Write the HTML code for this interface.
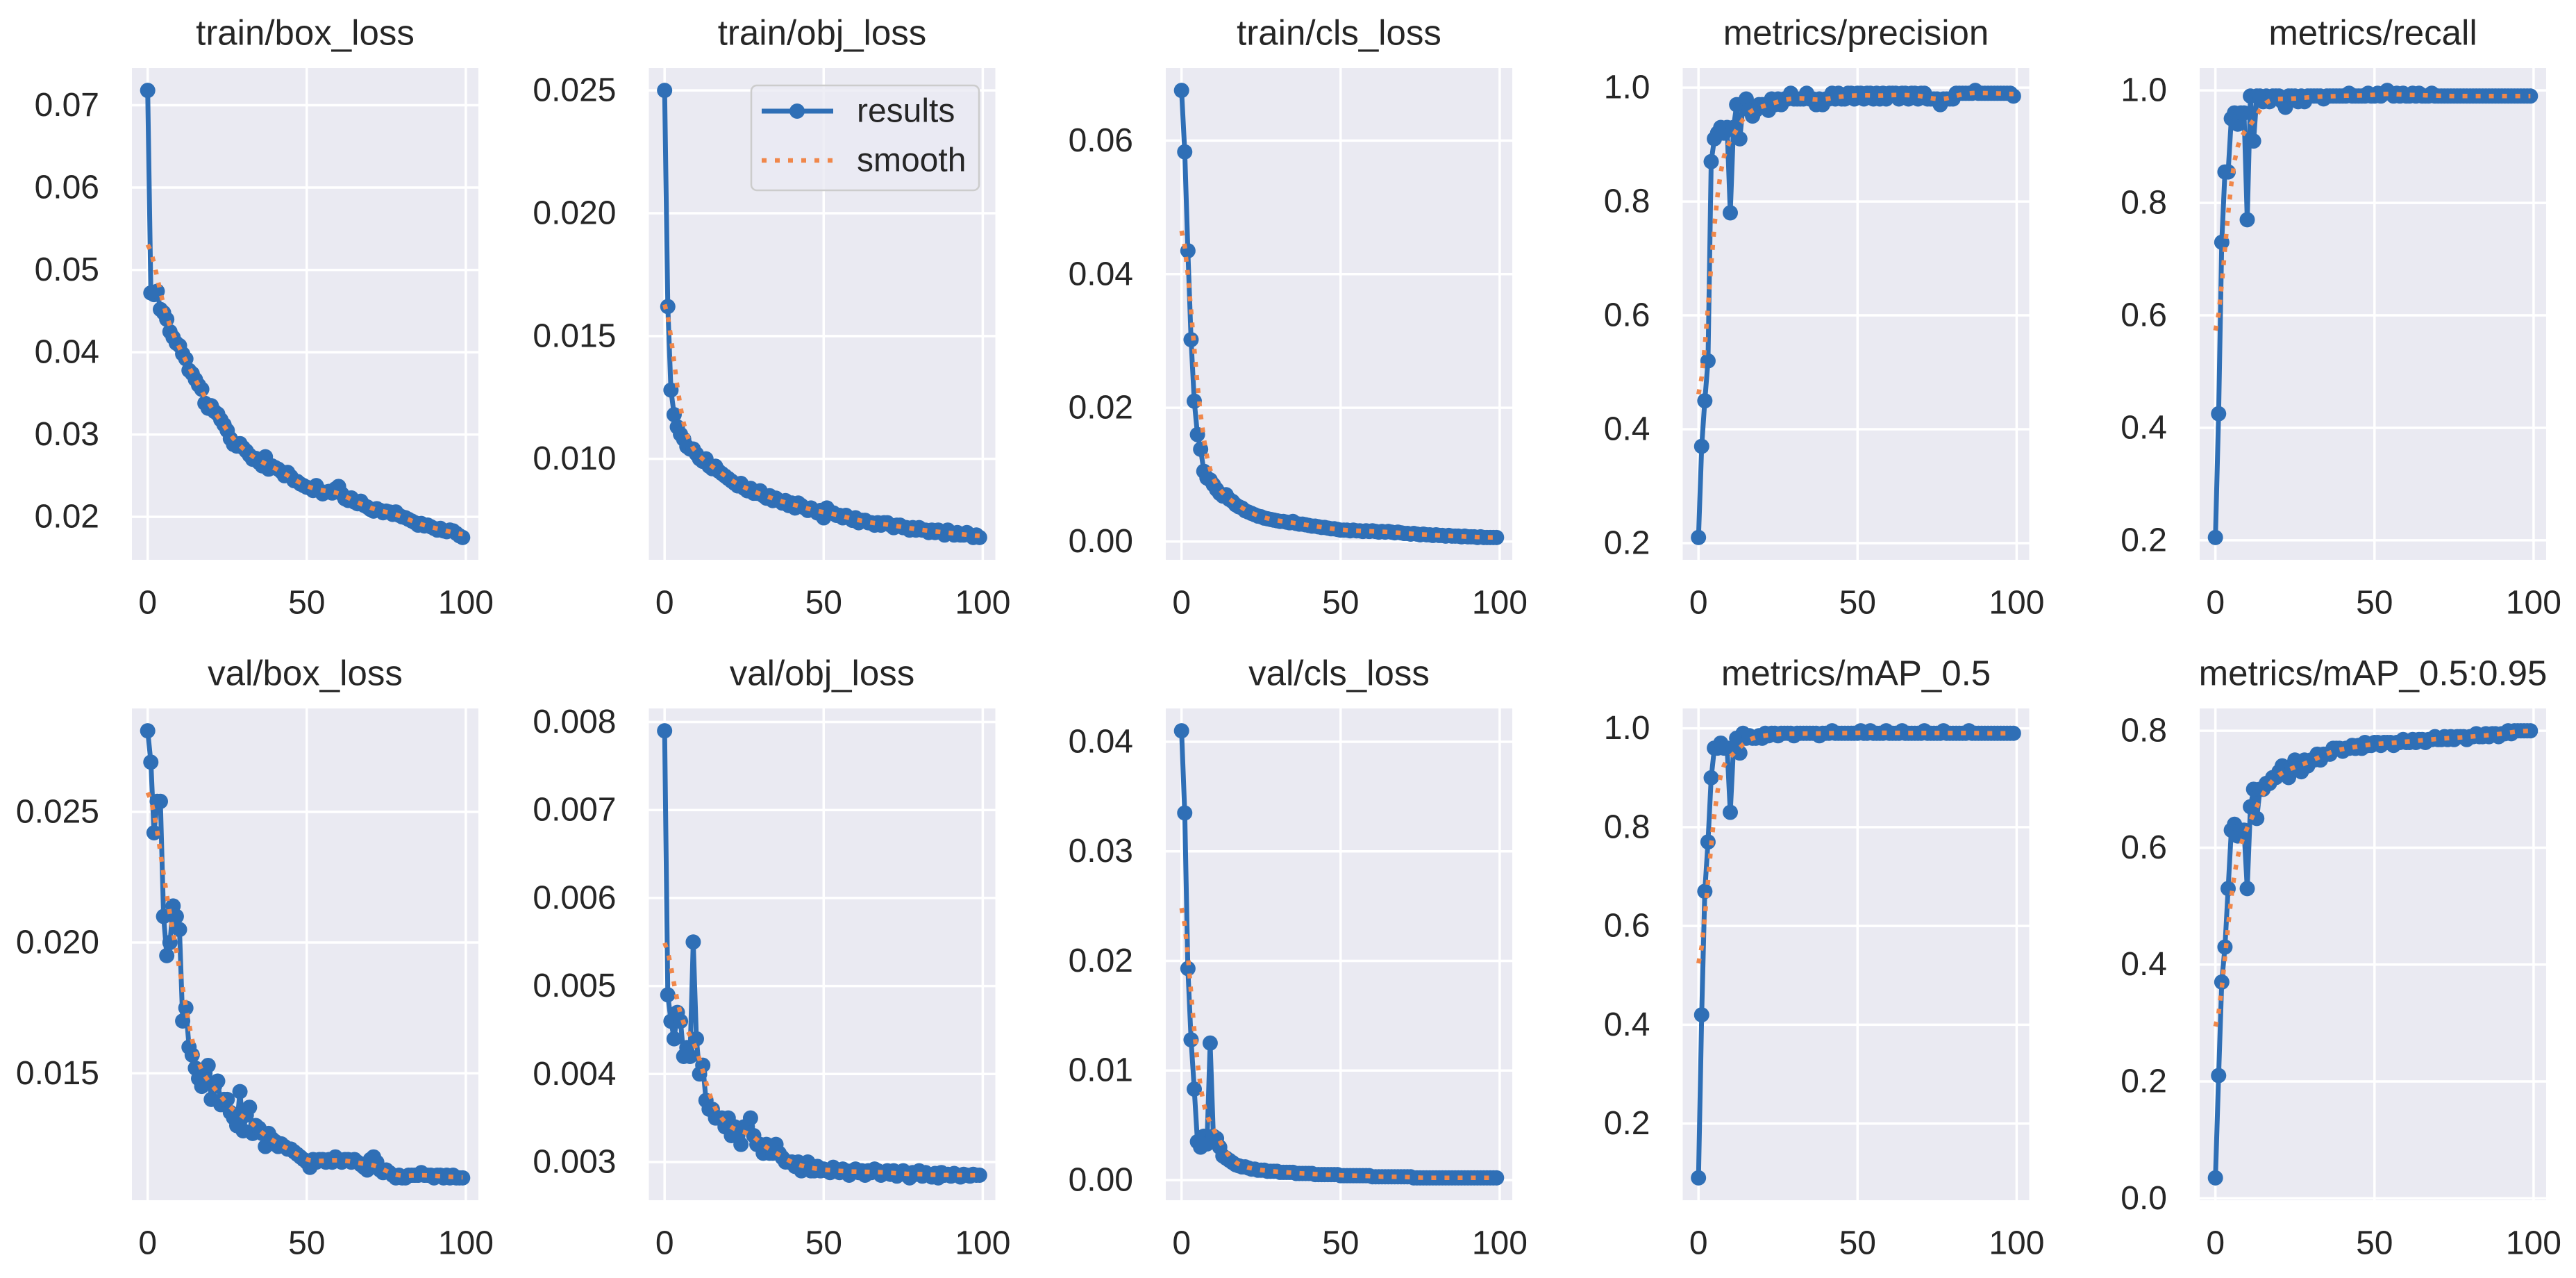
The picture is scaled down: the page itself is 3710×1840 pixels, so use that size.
<!DOCTYPE html>
<html>
<head>
<meta charset="utf-8">
<style>
html,body{margin:0;padding:0;background:#fff;}
svg{display:block;}
text{font-family:"Liberation Sans",Arial,sans-serif;fill:#262626;}
</style>
</head>
<body>
<svg id="chart" xmlns="http://www.w3.org/2000/svg" width="3710" height="1840" viewBox="0 0 3710 1840">
<rect x="0" y="0" width="3710" height="1840" fill="#ffffff"/>
</svg>
<script>
const titles = ["train/box_loss","train/obj_loss","train/cls_loss","metrics/precision","metrics/recall","val/box_loss","val/obj_loss","val/cls_loss","metrics/mAP_0.5","metrics/mAP_0.5:0.95"];
const xTicks = [0,50,100];
const trainBox = [0.0718,0.0472,0.0470,0.0474,0.0452,0.0448,0.0440,0.0425,0.0418,0.0411,0.0408,0.0398,0.0392,0.0378,0.0374,0.0367,0.0360,0.0355,0.0338,0.0332,0.0335,0.0328,0.0325,0.0318,0.0312,0.0305,0.0295,0.0288,0.0286,0.0289,0.0284,0.0280,0.0275,0.0270,0.0271,0.0266,0.0262,0.0273,0.0258,0.0262,0.0260,0.0258,0.0255,0.0250,0.0254,0.0249,0.0244,0.0243,0.0240,0.0238,0.0236,0.0235,0.0232,0.0238,0.0232,0.0228,0.0230,0.0231,0.0229,0.0234,0.0237,0.0228,0.0222,0.0220,0.0223,0.0218,0.0216,0.0219,0.0214,0.0212,0.0209,0.0207,0.0210,0.0208,0.0205,0.0207,0.0206,0.0203,0.0206,0.0202,0.0200,0.0199,0.0197,0.0195,0.0193,0.0190,0.0192,0.0189,0.0190,0.0188,0.0186,0.0184,0.0186,0.0183,0.0182,0.0184,0.0183,0.0180,0.0177,0.0175];
const trainObj = [0.0250,0.0162,0.0128,0.0118,0.0113,0.0110,0.0108,0.0105,0.0104,0.0104,0.0102,0.0100,0.0099,0.0100,0.0097,0.0096,0.0097,0.0095,0.0094,0.0093,0.0092,0.0091,0.0090,0.0089,0.0090,0.0088,0.0087,0.0088,0.0086,0.0086,0.0087,0.0085,0.0084,0.0085,0.0083,0.0084,0.0083,0.0082,0.0083,0.0081,0.0082,0.0080,0.0082,0.0081,0.0080,0.0079,0.0080,0.0079,0.0078,0.0079,0.0076,0.0080,0.0078,0.0078,0.0077,0.0077,0.0076,0.0077,0.0076,0.0075,0.0076,0.0074,0.0075,0.0075,0.0074,0.0074,0.0073,0.0074,0.0073,0.0074,0.0074,0.0073,0.0072,0.0073,0.0073,0.0072,0.0072,0.0071,0.0072,0.0071,0.0072,0.0071,0.0071,0.0070,0.0071,0.0070,0.0071,0.0070,0.0069,0.0071,0.0070,0.0069,0.0070,0.0069,0.0069,0.0070,0.0069,0.0068,0.0069,0.0068];
const trainCls = [0.0675,0.0583,0.0435,0.0302,0.0210,0.0160,0.0138,0.0105,0.0095,0.0092,0.0085,0.0078,0.0072,0.0068,0.0070,0.0063,0.0060,0.0055,0.0052,0.0050,0.0046,0.0044,0.0042,0.0040,0.0038,0.0037,0.0035,0.0034,0.0033,0.0032,0.0031,0.0030,0.0030,0.0029,0.0028,0.0030,0.0027,0.0026,0.0026,0.0025,0.0024,0.0023,0.0023,0.0022,0.0021,0.0021,0.0020,0.0019,0.0019,0.0018,0.0017,0.0017,0.0017,0.0016,0.0017,0.0016,0.0016,0.0015,0.0016,0.0015,0.0016,0.0015,0.0014,0.0015,0.0014,0.0015,0.0014,0.0013,0.0014,0.0013,0.0012,0.0012,0.0011,0.0012,0.0011,0.0010,0.0011,0.0010,0.0010,0.0009,0.0010,0.0009,0.0009,0.0008,0.0009,0.0008,0.0008,0.0008,0.0007,0.0008,0.0007,0.0007,0.0007,0.0006,0.0007,0.0006,0.0006,0.0006,0.0006,0.0006];
const precision = [0.21,0.37,0.45,0.52,0.87,0.91,0.92,0.93,0.92,0.93,0.78,0.93,0.97,0.91,0.97,0.98,0.96,0.95,0.96,0.97,0.97,0.97,0.96,0.98,0.97,0.98,0.97,0.98,0.98,0.99,0.98,0.98,0.98,0.98,0.99,0.98,0.98,0.97,0.98,0.97,0.98,0.98,0.99,0.98,0.99,0.98,0.98,0.99,0.99,0.98,0.99,0.99,0.98,0.99,0.99,0.98,0.99,0.98,0.99,0.98,0.99,0.99,0.99,0.98,0.99,0.99,0.98,0.99,0.99,0.98,0.99,0.99,0.98,0.98,0.98,0.98,0.97,0.98,0.98,0.98,0.98,0.99,0.99,0.99,0.99,0.99,0.99,0.995,0.99,0.99,0.99,0.99,0.99,0.99,0.99,0.99,0.99,0.99,0.99,0.985];
const recall = [0.205,0.425,0.73,0.855,0.855,0.95,0.96,0.94,0.96,0.96,0.77,0.99,0.91,0.99,0.99,0.98,0.99,0.98,0.99,0.99,0.99,0.98,0.97,0.99,0.99,0.99,0.98,0.99,0.98,0.99,0.99,0.99,0.99,0.99,0.985,0.99,0.99,0.99,0.99,0.99,0.99,0.99,0.995,0.99,0.99,0.99,0.99,0.99,0.995,0.99,0.99,0.995,0.99,0.995,1.0,0.995,0.99,0.995,0.99,0.995,0.99,0.99,0.995,0.99,0.995,0.99,0.99,0.99,0.995,0.99,0.99,0.99,0.99,0.99,0.99,0.99,0.99,0.99,0.99,0.99,0.99,0.99,0.99,0.99,0.99,0.99,0.99,0.99,0.99,0.99,0.99,0.99,0.99,0.99,0.99,0.99,0.99,0.99,0.99,0.99];
const valBox = [0.0281,0.0269,0.0242,0.0254,0.0254,0.0210,0.0195,0.0200,0.0214,0.0210,0.0205,0.0170,0.0175,0.0160,0.0157,0.0152,0.0148,0.0145,0.0150,0.0153,0.0140,0.0145,0.0147,0.0138,0.0140,0.0140,0.0135,0.0133,0.0130,0.0143,0.0128,0.0134,0.0137,0.0127,0.0130,0.0129,0.0127,0.0122,0.0127,0.0125,0.0124,0.0122,0.0123,0.0122,0.0121,0.0121,0.0120,0.0119,0.0118,0.0117,0.0116,0.0114,0.0117,0.0116,0.0117,0.0117,0.0116,0.0117,0.0116,0.0118,0.0117,0.0116,0.0117,0.0117,0.0116,0.0117,0.0116,0.0115,0.0114,0.0113,0.0117,0.0118,0.0116,0.0113,0.0112,0.0113,0.0112,0.0111,0.0110,0.0111,0.0110,0.0110,0.0111,0.0111,0.0111,0.0111,0.0112,0.0111,0.0111,0.0111,0.0110,0.0111,0.0111,0.0110,0.0111,0.0110,0.0111,0.0110,0.0110,0.0110];
const valObj = [0.0079,0.0049,0.0046,0.0044,0.0047,0.0046,0.0042,0.0043,0.0042,0.0055,0.0044,0.0040,0.0041,0.0037,0.0036,0.0036,0.0035,0.0035,0.0035,0.0034,0.0035,0.0033,0.0034,0.0033,0.0032,0.0034,0.0034,0.0035,0.0033,0.0032,0.0032,0.0031,0.0032,0.0031,0.0031,0.0032,0.0031,0.00305,0.0030,0.0030,0.0030,0.00295,0.0030,0.0029,0.00295,0.0030,0.0029,0.0029,0.00295,0.0029,0.00292,0.0029,0.00288,0.00294,0.0029,0.00288,0.00292,0.0029,0.00285,0.0029,0.00292,0.00288,0.0029,0.00285,0.0029,0.00288,0.00292,0.0029,0.00285,0.00288,0.0029,0.00286,0.0029,0.00284,0.00288,0.0029,0.00285,0.00282,0.00288,0.00286,0.0029,0.00284,0.00288,0.00286,0.00283,0.00287,0.00282,0.00288,0.00285,0.00286,0.00284,0.00287,0.00285,0.00283,0.00286,0.00285,0.00284,0.00286,0.00285,0.00285];
const valCls = [0.0410,0.0335,0.0193,0.0128,0.0083,0.0035,0.0030,0.0040,0.0033,0.0125,0.0040,0.0038,0.0030,0.0022,0.0020,0.0018,0.0016,0.0014,0.0013,0.0012,0.0012,0.0011,0.0010,0.0010,0.0009,0.0009,0.0009,0.0008,0.0008,0.0008,0.0008,0.0007,0.0007,0.0007,0.0007,0.0007,0.0006,0.0006,0.0006,0.0006,0.0006,0.0006,0.0005,0.0005,0.0005,0.0005,0.0005,0.0005,0.0005,0.0005,0.0004,0.0004,0.0004,0.0004,0.0004,0.0004,0.0004,0.0004,0.0004,0.0004,0.0003,0.0003,0.0003,0.0003,0.0003,0.0003,0.0003,0.0003,0.0003,0.0003,0.0003,0.0003,0.0003,0.0002,0.0002,0.0002,0.0002,0.0002,0.0002,0.0002,0.0002,0.0002,0.0002,0.0002,0.0002,0.0002,0.0002,0.0002,0.0002,0.0002,0.0002,0.0002,0.0002,0.0002,0.0002,0.0002,0.0002,0.0002,0.0002,0.0002];
const map50 = [0.09,0.42,0.67,0.77,0.90,0.96,0.96,0.97,0.96,0.96,0.83,0.96,0.98,0.95,0.99,0.98,0.985,0.98,0.98,0.985,0.98,0.99,0.985,0.99,0.99,0.985,0.99,0.99,0.99,0.99,0.985,0.99,0.99,0.99,0.99,0.99,0.99,0.99,0.985,0.99,0.99,0.99,0.995,0.99,0.99,0.99,0.99,0.99,0.99,0.99,0.99,0.995,0.99,0.99,0.995,0.99,0.99,0.99,0.99,0.995,0.99,0.99,0.99,0.99,0.995,0.99,0.99,0.99,0.99,0.99,0.99,0.995,0.99,0.99,0.99,0.99,0.99,0.995,0.99,0.99,0.99,0.99,0.99,0.99,0.99,0.995,0.99,0.99,0.99,0.99,0.99,0.99,0.99,0.99,0.99,0.99,0.99,0.99,0.99,0.99];
const map5095 = [0.035,0.21,0.37,0.43,0.53,0.63,0.64,0.62,0.63,0.63,0.53,0.67,0.70,0.65,0.70,0.70,0.71,0.71,0.72,0.72,0.73,0.74,0.73,0.72,0.74,0.75,0.74,0.73,0.75,0.74,0.75,0.75,0.76,0.75,0.76,0.76,0.76,0.77,0.77,0.77,0.765,0.77,0.77,0.775,0.77,0.775,0.77,0.78,0.775,0.775,0.78,0.78,0.775,0.78,0.78,0.78,0.775,0.78,0.78,0.785,0.78,0.78,0.785,0.78,0.785,0.785,0.78,0.785,0.785,0.79,0.785,0.785,0.79,0.785,0.79,0.785,0.79,0.79,0.79,0.785,0.79,0.79,0.795,0.79,0.79,0.795,0.79,0.795,0.795,0.79,0.795,0.795,0.80,0.795,0.80,0.80,0.80,0.80,0.80,0.80];
const yTicks0 = [0.02,0.03,0.04,0.05,0.06,0.07];
const yTicks1 = [0.010,0.015,0.020,0.025];
const yTicks2 = [0.00,0.02,0.04,0.06];
const yTicks3 = [0.2,0.4,0.6,0.8,1.0];
const yTicks4 = [0.2,0.4,0.6,0.8,1.0];
const yTicks5 = [0.015,0.020,0.025];
const yTicks6 = [0.003,0.004,0.005,0.006,0.007,0.008];
const yTicks7 = [0.00,0.01,0.02,0.03,0.04];
const yTicks8 = [0.2,0.4,0.6,0.8,1.0];
const yTicks9 = [0.0,0.2,0.4,0.6,0.8];
const tickDecimals = [2,3,2,1,1,3,3,2,1,1];

const seriesList = [trainBox,trainObj,trainCls,precision,recall,valBox,valObj,valCls,map50,map5095];
const yTickList = [yTicks0,yTicks1,yTicks2,yTicks3,yTicks4,yTicks5,yTicks6,yTicks7,yTicks8,yTicks9];
const NS = "http://www.w3.org/2000/svg";
const svg = document.getElementById('chart');
const BLUE = "#2F6FB6", ORANGE = "#F0874A";

function mk(tag, attrs, parent){
  const e = document.createElementNS(NS, tag);
  for (const k in attrs) e.setAttribute(k, attrs[k]);
  (parent||svg).appendChild(e);
  return e;
}
function reflectIdx(j, n){
  while (j < 0 || j >= n){
    if (j < 0) j = -j - 1;
    if (j >= n) j = 2*n - j - 1;
  }
  return j;
}
function gaussSmooth(y, sigma){
  const r = Math.ceil(4*sigma), w=[]; let s=0;
  for (let k=-r;k<=r;k++){ const v=Math.exp(-k*k/(2*sigma*sigma)); w.push(v); s+=v; }
  const n=y.length, out=[];
  for (let i=0;i<n;i++){ let a=0; for (let k=-r;k<=r;k++){ a+=w[k+r]*y[reflectIdx(i+k,n)]; } out.push(a/s); }
  return out;
}

const PW = 499, PH = 708;
for (let p=0;p<10;p++){
  const col=p%5, row=Math.floor(p/5);
  const left = 190 + col*744.5, top = row ? 1020 : 98;
  const data = seriesList[p];
  const smooth = gaussSmooth(data, 3);
  const n = data.length;
  const all = data.concat(smooth);
  let ymin=Math.min(...all), ymax=Math.max(...all);
  const m=(ymax-ymin)*0.05; ymin-=m; ymax+=m;
  const xmin=-(n-1)*0.05, xmax=(n-1)*1.05;
  const sx = v => left + (v-xmin)/(xmax-xmin)*PW;
  const sy = v => top + (ymax-v)/(ymax-ymin)*PH;

  const g = mk('g', {});
  
  

  const bg = mk('rect', {x:left, y:top, width:PW, height:PH, fill:'#EAEAF2'}, g);
  
  

  const yt = yTickList[p];
  for (const t of yt){
    const y = sy(t);
    const gl = mk('line', {x1:left, x2:left+PW, y1:y, y2:y, stroke:'#fff', 'stroke-width':3.5}, g);
    
    
    const tl = mk('text', {x:left-47, y:y, 'text-anchor':'end', 'dominant-baseline':'central', 'font-size':48}, g);
    tl.textContent = t.toFixed(tickDecimals[p]);
    
    
  }
  for (const t of xTicks){
    const x = sx(t);
    const gl = mk('line', {x1:x, x2:x, y1:top, y2:top+PH, stroke:'#fff', 'stroke-width':3.5}, g);
    
    
    const tl = mk('text', {x:x, y:top+PH+62, 'text-anchor':'middle', 'dominant-baseline':'central', 'font-size':48}, g);
    tl.textContent = String(t);
    
    
  }
  const tt = mk('text', {x:left+PW/2, y:top-51, 'text-anchor':'middle', 'dominant-baseline':'central', 'font-size':51}, g);
  tt.textContent = titles[p];
  
  

  let d='';
  for (let i=0;i<n;i++) d += (i?'L':'M') + sx(i).toFixed(1) + ',' + sy(data[i]).toFixed(1);
  const line = mk('path', {d:d, fill:'none', stroke:BLUE, 'stroke-width':7, 'stroke-linejoin':'round'}, g);
  
  
  for (let i=0;i<n;i++){
    const c = mk('circle', {cx:sx(i), cy:sy(data[i]), r:11, fill:BLUE}, g);
    
    
  }
  let ds='';
  for (let i=0;i<n;i++) ds += (i?'L':'M') + sx(i).toFixed(1) + ',' + sy(smooth[i]).toFixed(1);
  const sl = mk('path', {d:ds, fill:'none', stroke:ORANGE, 'stroke-width':6.5, 'stroke-dasharray':'7 12'}, g);
  
  

  if (p===1){
    const lg = mk('g', {});
    
    
    const box = mk('rect', {x:1082, y:123, width:328, height:151, rx:8, fill:'#EAEAF2', 'fill-opacity':0.8, stroke:'#cccccc', 'stroke-width':2.5}, lg);
    
    
    const l1 = mk('line', {x1:1097, x2:1200, y1:160, y2:160, stroke:BLUE, 'stroke-width':7}, lg);
    
    
    const c1 = mk('circle', {cx:1148, cy:160, r:11, fill:BLUE}, lg);
    
    
    const t1 = mk('text', {x:1234, y:160, 'dominant-baseline':'central', 'font-size':48}, lg);
    t1.textContent = 'results';
    
    
    const l2 = mk('line', {x1:1097, x2:1200, y1:231, y2:231, stroke:ORANGE, 'stroke-width':6.5, 'stroke-dasharray':'7 12'}, lg);
    
    
    const t2 = mk('text', {x:1234, y:231, 'dominant-baseline':'central', 'font-size':48}, lg);
    t2.textContent = 'smooth';
    
    
  }
}
</script>
</body>
</html>
